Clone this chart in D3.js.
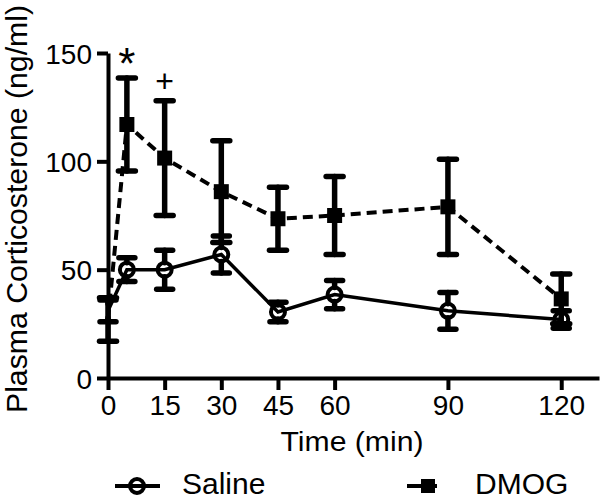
<!DOCTYPE html>
<html><head><meta charset="utf-8">
<script src="https://cdn.jsdelivr.net/npm/d3@7"></script>
<style>body{margin:0;background:#fff}svg{display:block}text{font-family:"Liberation Sans",Arial,Helvetica,sans-serif;fill:#000}</style>
</head><body>
<svg id="c" width="600" height="501"></svg>
<script>
const times = [0, 5, 15, 30, 45, 60, 90, 120];
const salineMean = [31, 50, 50, 57, 30.5, 38.5, 31, 27];
const salineSEM  = [5, 5.5, 9, 8.5, 4.5, 6.5, 8.5, 4];
const dmogMean   = [27, 117, 101.5, 86, 73.5, 75, 79, 36.5];
const dmogSEM    = [10, 21.5, 26.5, 23.5, 14.5, 18, 22, 11.5];
const xTicks = [0, 15, 30, 45, 60, 90, 120];
const yTicks = [0, 50, 100, 150];
const sigMarks = [{t: 5, v: 150, label: "*"}, {t: 15, v: 137, label: "+"}];

const svg = d3.select("#c");
const x = d3.scaleLinear().domain([0, 130]).range([108, 599]);
const y = d3.scaleLinear().domain([0, 150]).range([378, 53]);

// axes
const ya = svg.append("g").attr("transform", `translate(${x(0)},0)`)
  .call(d3.axisLeft(y).tickValues(yTicks).tickSize(11).tickSizeOuter(0).tickPadding(5));
const xa = svg.append("g").attr("transform", `translate(0,${y(0)})`)
  .call(d3.axisBottom(x).tickValues(xTicks).tickSize(12).tickSizeOuter(0).tickPadding(5));
[ya, xa].forEach(g => {
  g.selectAll("path.domain").attr("stroke", "#000").attr("stroke-width", 4);
  g.selectAll(".tick line").attr("stroke", "#000").attr("stroke-width", 4);
  g.selectAll(".tick text").attr("font-size", 28).attr("fill", "#000")
    .style("font-family", '"Liberation Sans",Arial,sans-serif');
});
ya.selectAll(".tick text").attr("dy", "0.36em");

// titles
svg.append("text").attr("transform", `translate(27,${209}) rotate(-90)`)
  .attr("text-anchor", "middle").attr("font-size", 29)
  .attr("textLength", 408).attr("lengthAdjust", "spacingAndGlyphs")
  .text("Plasma Corticosterone (ng/ml)");
svg.append("text").attr("x", 352).attr("y", 451)
  .attr("text-anchor", "middle").attr("font-size", 27)
  .attr("textLength", 143).attr("lengthAdjust", "spacingAndGlyphs")
  .text("Time (min)");

const sal = times.map((t, i) => ({t, m: salineMean[i], e: salineSEM[i]}));
const dmg = times.map((t, i) => ({t, m: dmogMean[i], e: dmogSEM[i]}));
const line = d3.line().x(d => x(d.t)).y(d => y(d.m));

svg.append("path").datum(dmg).attr("d", line).attr("fill", "none")
  .attr("stroke", "#000").attr("stroke-width", 4).attr("stroke-dasharray", "10,6");
svg.append("path").datum(sal).attr("d", line).attr("fill", "none")
  .attr("stroke", "#000").attr("stroke-width", 3.5);

function errBars(data, r, capW) {
  const g = svg.append("g").attr("stroke", "#000").attr("stroke-width", 5.5).attr("stroke-linecap", "round");
  data.forEach(d => {
    const cx = x(d.t), yt = y(d.m + d.e), yb = y(d.m - d.e), yc = y(d.m);
    g.append("line").attr("x1", cx).attr("x2", cx).attr("y1", yt).attr("y2", Math.min(yc - r, yb));
    g.append("line").attr("x1", cx).attr("x2", cx).attr("y1", Math.max(yc + r, yt)).attr("y2", yb);
    g.append("line").attr("x1", cx - capW / 2).attr("x2", cx + capW / 2).attr("y1", yt).attr("y2", yt);
    g.append("line").attr("x1", cx - capW / 2).attr("x2", cx + capW / 2).attr("y1", yb).attr("y2", yb);
  });
}
errBars(dmg, 0, 17);
errBars(sal, 7, 16);

// markers (t=0 points sit on the axis)
svg.append("g").selectAll("rect").data(dmg.filter(d => d.t > 0)).join("rect")
  .attr("x", d => x(d.t) - 7.5).attr("y", d => y(d.m) - 7.5)
  .attr("width", 15).attr("height", 15).attr("fill", "#000");
svg.append("g").selectAll("circle").data(sal.filter(d => d.t > 0)).join("circle")
  .attr("cx", d => x(d.t)).attr("cy", d => y(d.m)).attr("r", 7)
  .attr("fill", "none").attr("stroke", "#000").attr("stroke-width", 4);

// significance marks (v = vertical centre of the mark)
svg.append("g").selectAll("text").data(sigMarks).join("text")
  .attr("x", d => x(d.t)).attr("y", d => y(d.v)).attr("text-anchor", "middle")
  .attr("dy", d => d.label === "*" ? "0.6em" : "0.33em")
  .attr("font-size", d => d.label === "*" ? 44 : 32)
  .text(d => d.label);

// legend
const lg = svg.append("g");
lg.append("line").attr("x1", 115).attr("x2", 160).attr("y1", 486).attr("y2", 486)
  .attr("stroke", "#000").attr("stroke-width", 4);
lg.append("circle").attr("cx", 137).attr("cy", 486).attr("r", 7)
  .attr("fill", "none").attr("stroke", "#000").attr("stroke-width", 4);
lg.append("text").attr("x", 182).attr("y", 494).attr("font-size", 30).text("Saline");
lg.append("line").attr("x1", 407).attr("x2", 452).attr("y1", 486).attr("y2", 486)
  .attr("stroke", "#000").attr("stroke-width", 4).attr("stroke-dasharray", "18,8,4");
lg.append("rect").attr("x", 421).attr("y", 479).attr("width", 14).attr("height", 14).attr("fill", "#000");
lg.append("text").attr("x", 475).attr("y", 494).attr("font-size", 30).text("DMOG");
</script>
</body></html>
